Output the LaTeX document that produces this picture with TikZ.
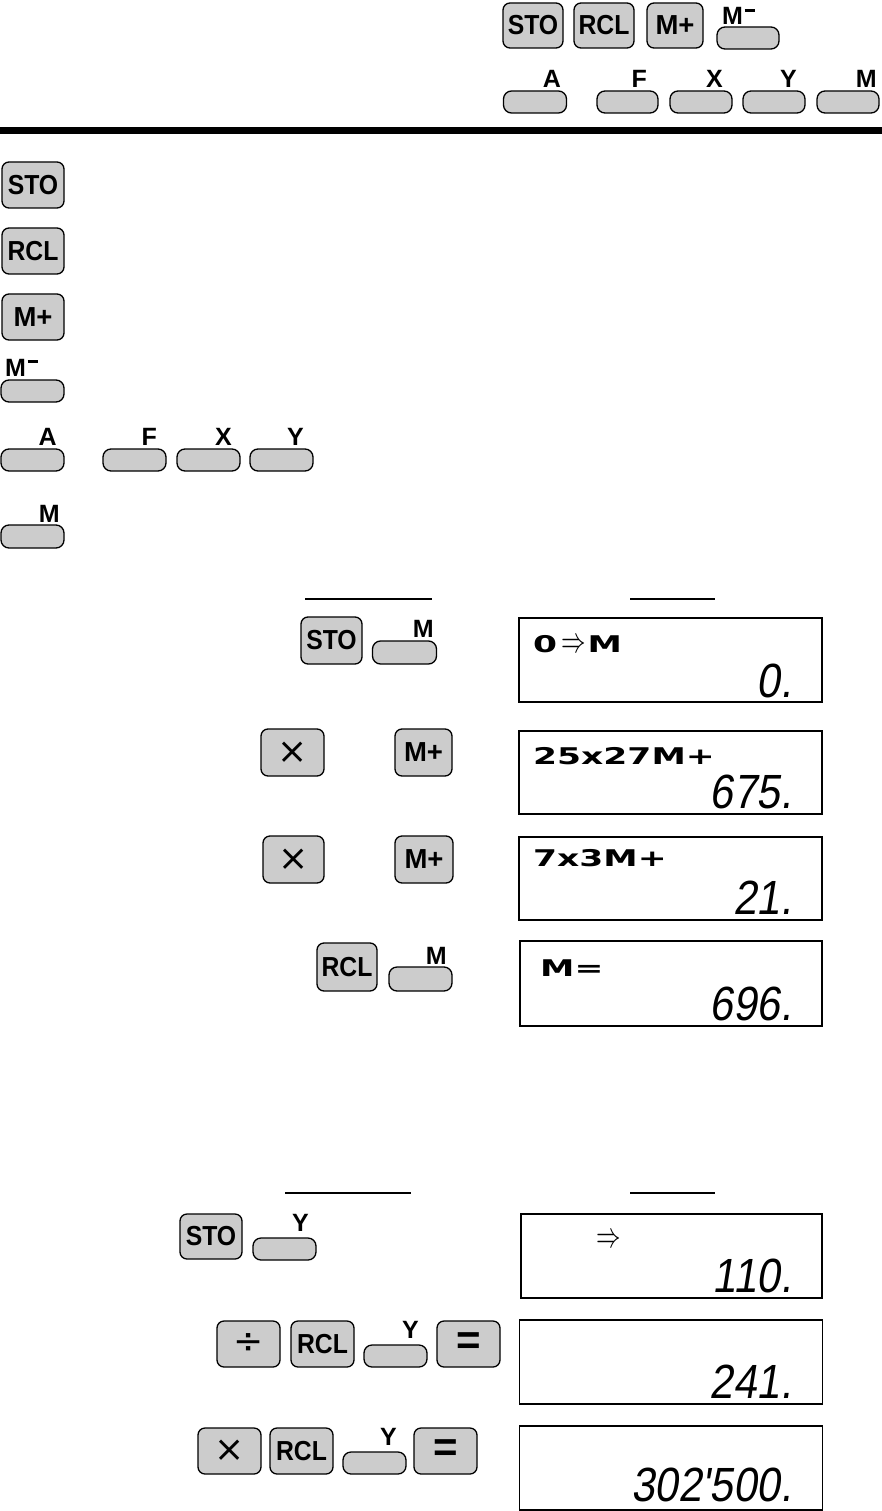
\documentclass[tikz,border=0pt]{standalone}
\usepackage{fontspec}
\setmainfont{Liberation Sans}
\newfontfamily\segfnt[FakeSlant=0.18]{Liberation Sans}
\newfontfamily\lcdfnt{DejaVu Sans}
\newfontfamily\symfnt{DejaVu Sans}
\definecolor{keygray}{RGB}{204,204,204}
\newcommand\mminus{M\hspace{1.5pt}\raisebox{0.52em}{\rule{0.42em}{0.13em}}}
\newcommand\kt[1]{\scalebox{0.9}[1]{#1}}
\newcommand\lt[1]{\scalebox{1.5}[1]{#1}}
\newcommand\sg[1]{\scalebox{0.88}[1]{#1}}
\newcommand\imp{{\fontsize{10}{10}\selectfont\scalebox{2.45}[3.6]{$\Rightarrow$}}}
\tikzset{
 x=1pt, y=-1pt,
 bkey/.style={draw=black, line width=1.3pt, fill=keygray, rounded corners=7pt, inner sep=0pt, minimum height=46pt, font=\fontsize{27.5}{27.5}\selectfont\bfseries},
 fkey/.style={draw=black, line width=1.3pt, fill=keygray, rounded corners=8pt, inner sep=0pt, minimum width=63pt, minimum height=22pt},
 klab/.style={inner sep=0pt, anchor=base east, font=\fontsize{25}{25}\selectfont\bfseries},
 lcd/.style={draw=black, line width=1.3pt, fill=white, inner sep=0pt, minimum width=303pt, minimum height=84pt},
 segtxt/.style={inner sep=0pt, anchor=base east, font=\fontsize{48}{48}\segfnt},
 lcdtxt/.style={inner sep=0pt, anchor=base west, font=\fontsize{23}{23}\lcdfnt\bfseries},
 symkey/.style={font=\fontsize{36}{36}\symfnt},
 eqkey/.style={font=\fontsize{42}{42}\selectfont\bfseries},
}
\begin{document}
\begin{tikzpicture}
\useasboundingbox (0,0) rectangle (882,1511);
% ---------- top header keys
\node[bkey, minimum width=60pt, minimum height=45pt] (tsto) at (533,25.5) {\kt{STO}};
\node[bkey, minimum width=60pt, minimum height=45pt] (trcl) at (604,25.5) {\kt{RCL}};
\node[bkey, minimum width=56pt, minimum height=45pt] (tmp) at (675,25.5) {M+};
\node[fkey, minimum width=62pt] (tmm) at (748,38) {};
\node[klab, anchor=base west] (tmml) at (722,25) {\mminus};
\node[fkey] (ta) at (535,102) {};
\node[klab] (tal) at (561,88) {A};
\node[fkey, minimum width=61pt] (tf) at (627.5,102) {};
\node[klab] (tfl) at (647,88) {F};
\node[fkey, minimum width=62pt] (tx) at (701,102) {};
\node[klab] (txl) at (723,88) {X};
\node[fkey, minimum width=62pt] (ty) at (774,102) {};
\node[klab] (tyl) at (797,88) {Y};
\node[fkey, minimum width=62pt] (tm) at (848,102) {};
\node[klab] (tml) at (877,88) {M};
% thick rule
\draw[line width=7pt] (0,130.5) -- (882,130.5);
% ---------- left column
\node[bkey, minimum width=62pt] (lsto) at (33,185) {\kt{STO}};
\node[bkey, minimum width=62pt] (lrcl) at (33,251) {\kt{RCL}};
\node[bkey, minimum width=62pt] (lmp) at (33,317) {M+};
\node[klab, anchor=base west] (lmml) at (5,376) {\mminus};
\node[fkey] (lmm) at (32.5,391) {};
\node[klab] (lal) at (57,445) {A};
\node[fkey] (la) at (32.5,460) {};
\node[fkey] (lf) at (134.5,460) {};
\node[klab] (lfl) at (157,445) {F};
\node[fkey] (lx) at (208.5,460) {};
\node[klab] (lxl) at (232,445) {X};
\node[fkey] (ly) at (281.5,460) {};
\node[klab] (lyl) at (304,445) {Y};
\node[klab] (lml) at (60,522) {M};
\node[fkey, minimum height=23pt] (lm) at (32.5,536.5) {};
% ---------- example 1
\draw[line width=1.2pt] (305,599) -- (432,599);
\draw[line width=2.4pt] (630,599) -- (715,599);
\node[bkey, minimum width=61pt, minimum height=47pt] (e1sto) at (331.5,640.5) {\kt{STO}};
\node[fkey, minimum width=64pt, minimum height=23pt] (e1m) at (404.5,652.5) {};
\node[klab] (e1ml) at (434,637) {M};
\node[lcd] (d1) at (670.5,660) {};
\node[lcdtxt] (d1t) at (533,652) {\lt{0}\hspace{4pt}\imp\hspace{2pt}\lt{M}};
\node[segtxt] (d1n) at (792,697) {\sg{0.}};
\node[bkey, symkey, minimum width=63pt, minimum height=47pt] (e1x1) at (292.5,752.5) {×};
\node[bkey, minimum width=57pt, minimum height=47pt] (e1mp1) at (423.5,752.5) {M+};
\node[lcd, minimum height=83pt] (d2) at (670.5,772.5) {};
\node[lcdtxt] (d2t) at (533,764) {\lt{25x27M+}};
\node[segtxt] (d2n) at (792,808) {\sg{675.}};
\node[bkey, symkey, minimum width=61pt, minimum height=47pt] (e1x2) at (293.5,859.5) {×};
\node[bkey, minimum width=58pt, minimum height=47pt] (e1mp2) at (424,859.5) {M+};
\node[lcd, minimum height=83pt] (d3) at (670.5,878.5) {};
\node[lcdtxt] (d3t) at (533,866) {\lt{7x3M+}};
\node[segtxt] (d3n) at (792,914) {\sg{21.}};
\node[bkey, minimum width=60pt, minimum height=48pt] (e1rcl) at (347,967) {\kt{RCL}};
\node[fkey, minimum height=24pt] (e1m2) at (420.5,979) {};
\node[klab] (e1m2l) at (447,964) {M};
\node[lcd, minimum width=302pt, minimum height=85pt] (d4) at (671,983.5) {};
\node[lcdtxt] (d4t) at (540,976) {\lt{M=}};
\node[segtxt] (d4n) at (792,1020) {\sg{696.}};
% ---------- example 2
\draw[line width=1.2pt] (285,1193) -- (411,1193);
\draw[line width=2.4pt] (630,1193) -- (715,1193);
\node[bkey, minimum width=62pt, minimum height=45pt] (e2sto) at (211,1236.5) {\kt{STO}};
\node[fkey] (e2y1) at (284.5,1249) {};
\node[klab] (e2y1l) at (309,1231) {Y};
\node[lcd, minimum width=301pt] (d5) at (671.5,1256) {};
\node[inner sep=0pt, anchor=base] (d5t) at (609,1247) {\imp};
\node[segtxt] (d5n) at (792,1292) {\sg{110.}};
\node[bkey, symkey, minimum width=63pt] (e2div) at (248.5,1344) {÷};
\node[bkey, minimum width=63pt] (e2rcl1) at (322.5,1344) {\kt{RCL}};
\node[fkey] (e2y2) at (395.5,1356) {};
\node[klab] (e2y2l) at (419,1338) {Y};
\node[bkey, eqkey, minimum width=63pt] (e2eq1) at (468.5,1344) {=};
\node[lcd] (d6) at (671,1362) {};
\node[segtxt] (d6n) at (792,1398) {\sg{241.}};
\node[bkey, symkey, minimum width=63pt] (e2x) at (229.5,1451) {×};
\node[bkey, minimum width=63pt] (e2rcl2) at (301.5,1451) {\kt{RCL}};
\node[fkey] (e2y3) at (374.5,1463) {};
\node[klab] (e2y3l) at (397,1445) {Y};
\node[bkey, eqkey, minimum width=63pt] (e2eq2) at (445.5,1451) {=};
\node[lcd] (d7) at (671,1468) {};
\node[segtxt] (d7n) at (792,1501) {\sg{302'500.}};
\end{tikzpicture}
\end{document}
